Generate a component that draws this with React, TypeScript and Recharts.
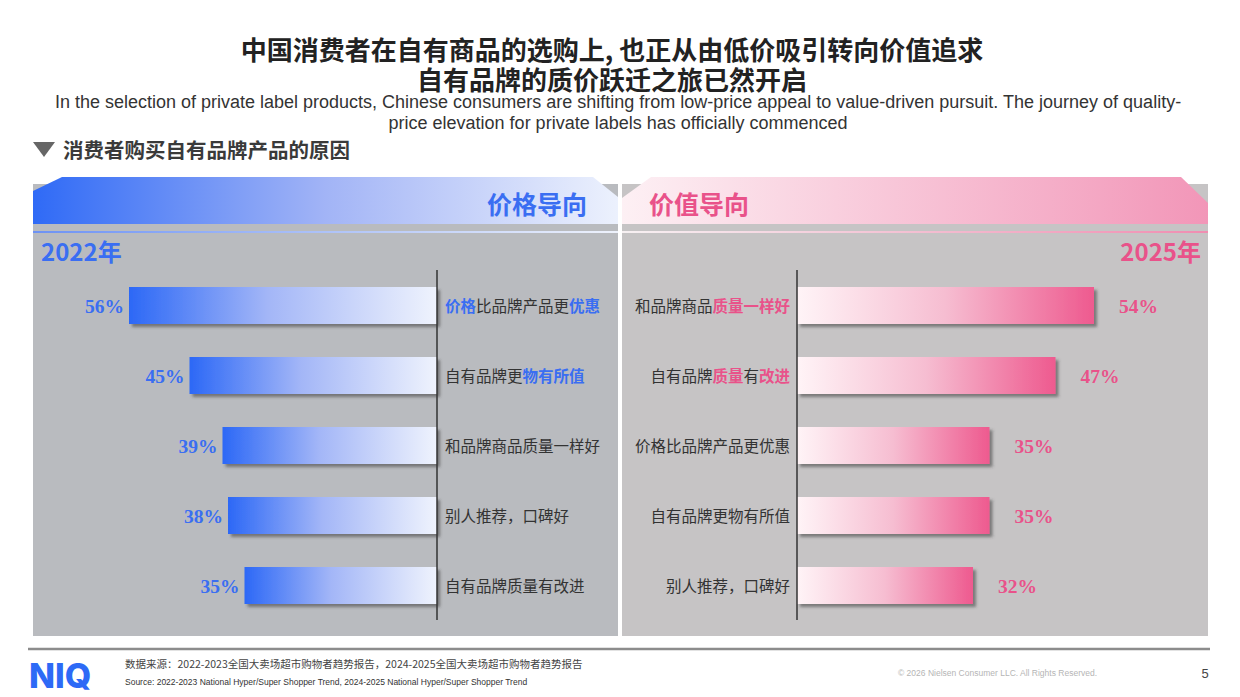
import React from 'react';
import { BarChart, Bar, XAxis, YAxis } from 'recharts';

// 2022: price-oriented reasons
const leftReasons = ['价格比品牌产品更优惠', '自有品牌更物有所值', '和品牌商品质量一样好', '别人推荐，口碑好', '自有品牌质量有改进'];
const leftValues = [56, 45, 39, 38, 35];
const leftHighlights = [['价格', '优惠'], ['物有所值'], [], [], []];

// 2025: value-oriented reasons
const rightReasons = ['和品牌商品质量一样好', '自有品牌质量有改进', '价格比品牌产品更优惠', '自有品牌更物有所值', '别人推荐，口碑好'];
const rightValues = [54, 47, 35, 35, 32];
const rightHighlights = [['质量一样好'], ['质量', '改进'], [], [], []];

const leftData = leftReasons.map((name, i) => ({ name, value: leftValues[i] }));
const rightData = rightReasons.map((name, i) => ({ name, value: rightValues[i] }));

const BLUE = '#3a6ef2';
const PINK = '#e9528a';
const CJK = "'Noto Sans CJK SC', 'Noto Sans', sans-serif";
const SANS = "'Liberation Sans', Arial, sans-serif";

function splitText(text: string, marks: string[]) {
  const parts: { t: string; hi: boolean }[] = [];
  let i = 0;
  while (i < text.length) {
    const m = marks.find((s) => text.startsWith(s, i));
    if (m) {
      parts.push({ t: m, hi: true });
      i += m.length;
    } else {
      const last = parts[parts.length - 1];
      if (last && !last.hi) last.t += text[i];
      else parts.push({ t: text[i], hi: false });
      i++;
    }
  }
  return parts;
}

const makeTick = (names: string[], highlights: string[][], color: string) => (props: any) => {
  const { x, y, payload, textAnchor } = props;
  const idx = names.indexOf(payload.value);
  const parts = splitText(payload.value, highlights[idx] ?? []);
  return (
    <text x={x} y={y} textAnchor={textAnchor} dominantBaseline="central" fontSize={15.5} fontFamily={CJK}>
      {parts.map((p, k) => (
        <tspan key={k} fill={p.hi ? color : '#333'} fontWeight={p.hi ? 700 : 400}>
          {p.t}
        </tspan>
      ))}
    </text>
  );
};

const makeBarShape = (grad: string, shadow: string, color: string, side: 'left' | 'right') => (p: any) => {
  const x0 = Math.min(p.x, p.x + p.width);
  const w = Math.abs(p.width);
  const v = p.payload.value;
  const lx = side === 'left' ? x0 - 5 : x0 + w + 25;
  return (
    <g>
      <rect x={x0} y={p.y} width={w} height={p.height} fill={`url(#${grad})`} filter={`url(#${shadow})`} />
      <text
        x={lx}
        y={p.y + p.height / 2 + 1}
        textAnchor={side === 'left' ? 'end' : 'start'}
        dominantBaseline="central"
        fill={color}
        fontFamily="'Liberation Serif', 'DejaVu Serif', serif"
        fontWeight={700}
        fontSize={19.5}
      >
        {v}%
      </text>
    </g>
  );
};

const Background = () => (
  <svg width={1240} height={697} style={{ position: 'absolute', left: 0, top: 0 }}>
    <defs>
      <linearGradient id="bandBlue" x1="0" x2="1" y1="0" y2="0">
        <stop offset="0" stopColor="#2f6af6" />
        <stop offset="0.5" stopColor="#a2b4f6" />
        <stop offset="1" stopColor="#ecf1fd" />
      </linearGradient>
      <linearGradient id="bandPink" x1="0" x2="1" y1="0" y2="0">
        <stop offset="0" stopColor="#fdf0f4" />
        <stop offset="1" stopColor="#f296b8" />
      </linearGradient>
      <linearGradient id="lineBlue" x1="0" x2="1" y1="0" y2="0">
        <stop offset="0" stopColor="#6d92f4" />
        <stop offset="1" stopColor="#eef2fc" />
      </linearGradient>
      <linearGradient id="linePink" x1="0" x2="1" y1="0" y2="0">
        <stop offset="0" stopColor="#f7f1f3" />
        <stop offset="1" stopColor="#f08db1" />
      </linearGradient>
    </defs>

    <text x={612} y={48} textAnchor="middle" dominantBaseline="central" fontFamily={CJK} fontWeight={700} fontSize={26} fill="#222">
      中国消费者在自有商品的选购上, 也正从由低价吸引转向价值追求
    </text>
    <text x={612} y={78} textAnchor="middle" dominantBaseline="central" fontFamily={CJK} fontWeight={700} fontSize={26} fill="#222">
      自有品牌的质价跃迁之旅已然开启
    </text>
    <text x={618} y={102} textAnchor="middle" dominantBaseline="central" fontFamily={SANS} fontSize={18} fill="#333">
      In the selection of private label products, Chinese consumers are shifting from low-price appeal to value-driven pursuit. The journey of quality-
    </text>
    <text x={618} y={123} textAnchor="middle" dominantBaseline="central" fontFamily={SANS} fontSize={18} fill="#333">
      price elevation for private labels has officially commenced
    </text>

    <polygon points="33,142 55,142 44,157" fill="#666" />
    <text x={63} y={149} dominantBaseline="central" fontFamily={CJK} fontWeight={700} fontSize={20.5} fill="#3a3a3a">
      消费者购买自有品牌产品的原因
    </text>

    <rect x={33} y={184} width={585} height={452} fill="#b9bbbf" />
    <rect x={622} y={184} width={586} height={452} fill="#c6c4c5" />
    <polygon points="33,191 62,177 593,177 618,197 618,224 33,224" fill="url(#bandBlue)" />
    <polygon points="622,198 651,177 1181,177 1208,203 1208,224 622,224" fill="url(#bandPink)" />
    <rect x={33} y={231} width={585} height={2} fill="url(#lineBlue)" />
    <rect x={622} y={231} width={586} height={2} fill="url(#linePink)" />

    <text x={587} y={203} textAnchor="end" dominantBaseline="central" fontFamily={CJK} fontWeight={700} fontSize={25} fill={BLUE}>
      价格导向
    </text>
    <text x={649} y={203} dominantBaseline="central" fontFamily={CJK} fontWeight={700} fontSize={25} fill={PINK}>
      价值导向
    </text>
    <text x={41} y={250} dominantBaseline="central" fontFamily={CJK} fontWeight={700} fontSize={24} fill={BLUE}>
      2022年
    </text>
    <text x={1201} y={250} textAnchor="end" dominantBaseline="central" fontFamily={CJK} fontWeight={700} fontSize={24} fill={PINK}>
      2025年
    </text>

    <line x1={28} x2={1210} y1={649} y2={649} stroke="#8c8c8c" strokeWidth={2.5} />
    <text x={29} y={675} dominantBaseline="central" fontFamily="Inter, Roboto, sans-serif" fontWeight={800} fontSize={34} fill="#2d6af6">
      NIQ
    </text>
    <text x={125} y={663} dominantBaseline="central" fontFamily={CJK} fontSize={10.5} fill="#444">
      数据来源：2022-2023全国大卖场超市购物者趋势报告，2024-2025全国大卖场超市购物者趋势报告
    </text>
    <text x={125} y={682} dominantBaseline="central" fontFamily={SANS} fontSize={8.5} fill="#333">
      Source: 2022-2023 National Hyper/Super Shopper Trend, 2024-2025 National Hyper/Super Shopper Trend
    </text>
    <text x={898} y={673} dominantBaseline="central" fontFamily={SANS} fontSize={8.5} fill="#b5b5b5">
      © 2026 Nielsen Consumer LLC. All Rights Reserved.
    </text>
    <text x={1205} y={673} textAnchor="middle" dominantBaseline="central" fontFamily={SANS} fontSize={13} fill="#444">
      5
    </text>
  </svg>
);

export default function App() {
  return (
    <div style={{ position: 'absolute', left: 0, top: 0, width: 1240, height: 697, background: '#fff', overflow: 'hidden' }}>
      <Background />

      <div style={{ position: 'absolute', left: 33, top: 260, width: 585, height: 370 }}>
        <BarChart width={585} height={370} data={leftData} layout="vertical" margin={{ top: 10, bottom: 10, left: 74, right: 0 }}>
          <defs>
            <linearGradient id="barBlue" x1="0" x2="1" y1="0" y2="0">
              <stop offset="0" stopColor="#2c68f6" />
              <stop offset="0.45" stopColor="#a3b6f7" />
              <stop offset="1" stopColor="#eff3fd" />
            </linearGradient>
            <filter id="shadowL" x="-10%" y="-30%" width="130%" height="170%">
              <feDropShadow dx={3} dy={3} stdDeviation={1.5} floodColor="#3a3a3a" floodOpacity={0.55} />
            </filter>
          </defs>
          <XAxis type="number" domain={[0, 60]} reversed hide />
          <YAxis
            type="category"
            dataKey="name"
            orientation="right"
            width={181}
            axisLine={{ stroke: '#333', strokeWidth: 1.5 }}
            tickLine={false}
            tickSize={0}
            tickMargin={8}
            tick={makeTick(leftReasons, leftHighlights, BLUE)}
          />
          <Bar dataKey="value" barSize={37} isAnimationActive={false} shape={makeBarShape('barBlue', 'shadowL', BLUE, 'left')} />
        </BarChart>
      </div>

      <div style={{ position: 'absolute', left: 622, top: 260, width: 586, height: 370 }}>
        <BarChart width={586} height={370} data={rightData} layout="vertical" margin={{ top: 10, bottom: 10, left: 0, right: 81 }}>
          <defs>
            <linearGradient id="barPink" x1="0" x2="1" y1="0" y2="0">
              <stop offset="0" stopColor="#fff4f7" />
              <stop offset="0.5" stopColor="#f6bdd1" />
              <stop offset="1" stopColor="#ee5a8f" />
            </linearGradient>
            <filter id="shadowR" x="-10%" y="-30%" width="130%" height="170%">
              <feDropShadow dx={3} dy={3} stdDeviation={1.5} floodColor="#3a3a3a" floodOpacity={0.55} />
            </filter>
          </defs>
          <XAxis type="number" domain={[0, 60]} hide />
          <YAxis
            type="category"
            dataKey="name"
            orientation="left"
            width={175}
            axisLine={{ stroke: '#333', strokeWidth: 1.5 }}
            tickLine={false}
            tickSize={0}
            tickMargin={7}
            tick={makeTick(rightReasons, rightHighlights, PINK)}
          />
          <Bar dataKey="value" barSize={37} isAnimationActive={false} shape={makeBarShape('barPink', 'shadowR', PINK, 'right')} />
        </BarChart>
      </div>
    </div>
  );
}
